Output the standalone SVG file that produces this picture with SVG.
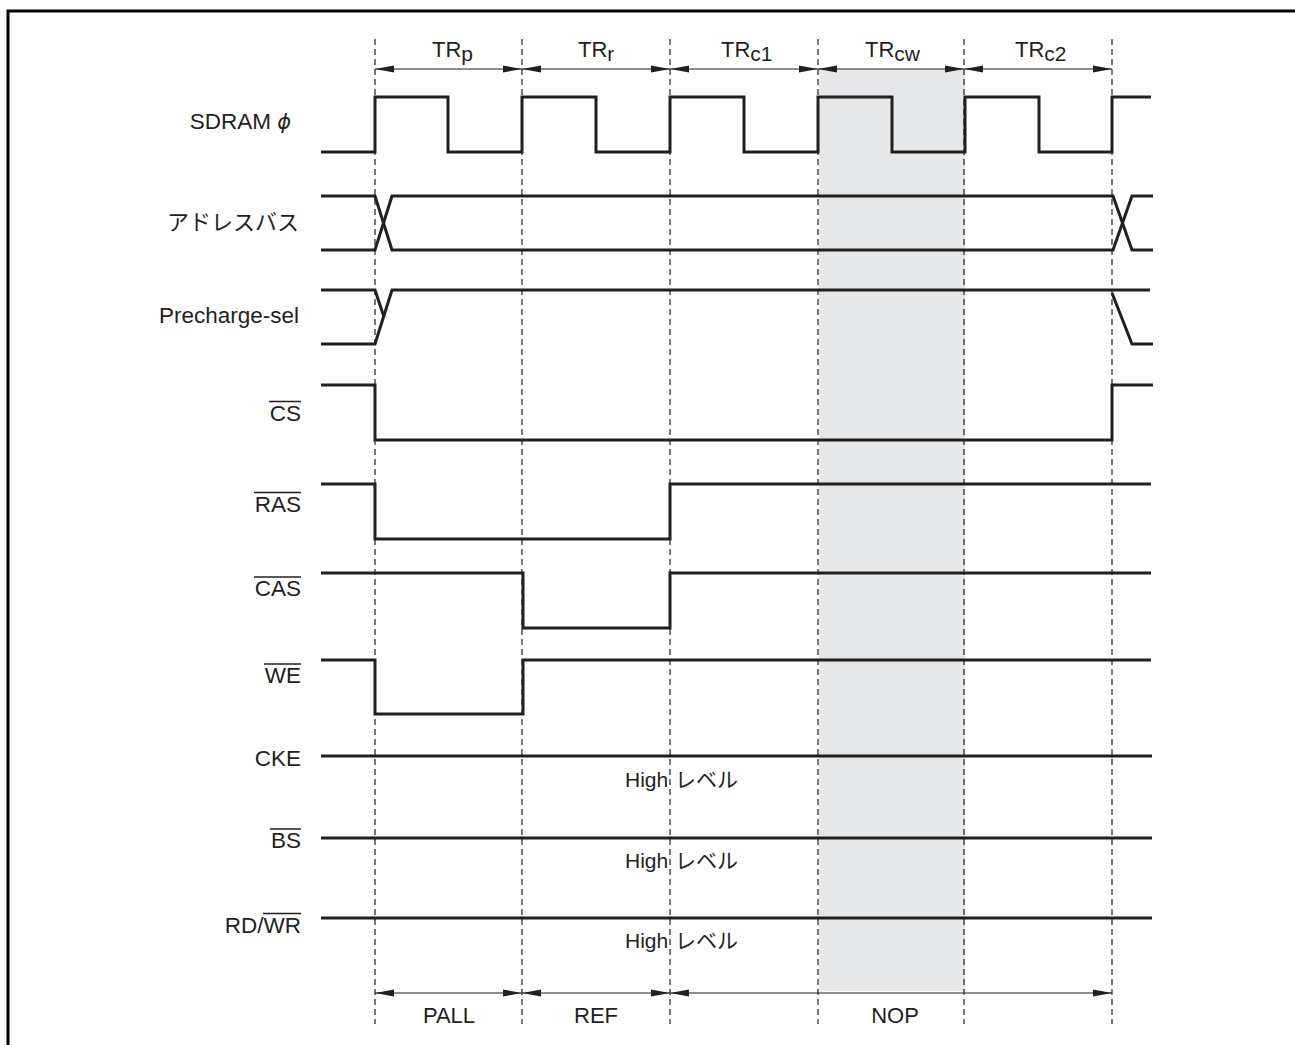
<svg xmlns="http://www.w3.org/2000/svg" width="1295" height="1045" viewBox="0 0 1295 1045">
<style>
  .sig{fill:none;stroke:#231f20;stroke-width:3;stroke-linejoin:miter;stroke-linecap:butt}
  .dash{fill:none;stroke:#231f20;stroke-width:1.2;stroke-dasharray:6 4}
  .arr{fill:none;stroke:#231f20;stroke-width:1.2;marker-start:url(#ah);marker-end:url(#ah)}
  .ov{stroke:#231f20;stroke-width:1.5}
  text{font-family:"Liberation Sans",Arial,"Noto Sans CJK JP",sans-serif;fill:#231f20}
  .lbl{font-size:22.5px;text-anchor:end}
  .cap{font-size:22px}
  .jp{font-family:"Noto Sans CJK JP","Noto Sans CJK SC",sans-serif;font-size:21px}
  .hi{font-size:21px}
</style>
<defs>
  <marker id="ah" markerUnits="userSpaceOnUse" markerWidth="19" markerHeight="8" refX="19" refY="4" orient="auto-start-reverse" viewBox="0 0 19 8">
    <path d="M0,0.5 L19,4 L0,7.5 z" fill="#231f20"/>
  </marker>
</defs>
<rect width="1295" height="1045" fill="#fff"/>
<path d="M8,1045 V11 H1295" fill="none" stroke="#000" stroke-width="3"/>

<rect id="shade" x="819" y="69" width="146" height="922" fill="#e6e7e9"/>

<g id="gridlines">
  <line class="dash" x1="375" y1="39" x2="375" y2="1024"/>
  <line class="dash" x1="522" y1="39" x2="522" y2="1024"/>
  <line class="dash" x1="670" y1="39" x2="670" y2="1024"/>
  <line class="dash" x1="818" y1="39" x2="818" y2="1024"/>
  <line class="dash" x1="964" y1="39" x2="964" y2="1024"/>
  <line class="dash" x1="1112" y1="39" x2="1112" y2="1024"/>
</g>

<g id="connectors">
  <line class="arr" x1="375" y1="69" x2="522" y2="69"/>
  <line class="arr" x1="522" y1="69" x2="670" y2="69"/>
  <line class="arr" x1="670" y1="69" x2="818" y2="69"/>
  <line class="arr" x1="818" y1="69" x2="964" y2="69"/>
  <line class="arr" x1="964" y1="69" x2="1112" y2="69"/>
  <line class="arr" x1="375" y1="993" x2="522" y2="993"/>
  <line class="arr" x1="522" y1="993" x2="670" y2="993"/>
  <line class="arr" x1="670" y1="993" x2="1112" y2="993"/>
</g>

<g id="cycle-labels" class="cap">
  <text x="432" y="57">TR<tspan dy="4" font-size="21">p</tspan></text>
  <text x="578" y="57">TR<tspan dy="4" font-size="21">r</tspan></text>
  <text x="721" y="57">TR<tspan dy="4" font-size="21">c1</tspan></text>
  <text x="865" y="57">TR<tspan dy="4" font-size="21">cw</tspan></text>
  <text x="1015" y="57">TR<tspan dy="4" font-size="21">c2</tspan></text>
</g>

<g id="cmd-labels" class="cap" text-anchor="middle">
  <text x="449" y="1023">PALL</text>
  <text x="596" y="1023">REF</text>
  <text x="895" y="1023">NOP</text>
</g>

<g id="sdram-clk">
  <text class="lbl" x="291" y="129">SDRAM <tspan font-style="italic" font-family="DejaVu Sans,sans-serif" font-size="21">ϕ</tspan></text>
  <path class="sig" d="M321,152 H375 V97 H448 V152 H522 V97 H596 V152 H670 V97 H744 V152 H818 V97 H892 V152 H965 V97 H1039 V152 H1112 V97 H1151"/>
</g>

<g id="address-bus">
  <text class="lbl jp" x="299" y="230" style="font-size:22px">アドレスバス</text>
  <path class="sig" d="M321,196 H375 L392,250 H1113 L1132,196 H1153"/>
  <path class="sig" d="M321,250 H375 L392,196 H1113 L1132,250 H1153"/>
</g>

<g id="precharge-sel">
  <text class="lbl" x="299" y="323">Precharge-sel</text>
  <path class="sig" d="M321,290 H375 L384,317"/>
  <path class="sig" d="M321,344 H375 L392,290 H1150"/>
  <path class="sig" d="M1112,293 L1132,344 H1153"/>
</g>

<g id="cs">
  <text class="lbl" x="301" y="421">CS</text>
  <line class="ov" x1="269" y1="401.5" x2="301" y2="401.5"/>
  <path class="sig" d="M321,385 H375 V440 H1112 V385 H1153"/>
</g>

<g id="ras">
  <text class="lbl" x="301" y="512">RAS</text>
  <line class="ov" x1="254" y1="492.5" x2="301" y2="492.5"/>
  <path class="sig" d="M321,484 H375 V539 H670 V484 H1151"/>
</g>

<g id="cas">
  <text class="lbl" x="301" y="596">CAS</text>
  <line class="ov" x1="254" y1="577" x2="301" y2="577"/>
  <path class="sig" d="M321,573 H523 V628 H670 V573 H1151"/>
</g>

<g id="we">
  <text class="lbl" x="301" y="683">WE</text>
  <line class="ov" x1="264" y1="664" x2="301" y2="664"/>
  <path class="sig" d="M321,660 H375 V714 H523 V660 H1151"/>
</g>

<g id="cke">
  <text class="lbl" x="301" y="766">CKE</text>
  <path class="sig" d="M321,756 H1152"/>
  <text class="hi" x="625" y="787">High</text>
  <text class="jp" x="675" y="787">レベル</text>
</g>

<g id="bs">
  <text class="lbl" x="301" y="848">BS</text>
  <line class="ov" x1="270" y1="829" x2="301" y2="829"/>
  <path class="sig" d="M321,838 H1152"/>
  <text class="hi" x="625" y="868">High</text>
  <text class="jp" x="675" y="868">レベル</text>
</g>

<g id="rd-wr">
  <text class="lbl" x="301" y="933">RD/WR</text>
  <line class="ov" x1="263" y1="913.5" x2="301" y2="913.5"/>
  <path class="sig" d="M321,918 H1152"/>
  <text class="hi" x="625" y="948">High</text>
  <text class="jp" x="675" y="948">レベル</text>
</g>
</svg>
